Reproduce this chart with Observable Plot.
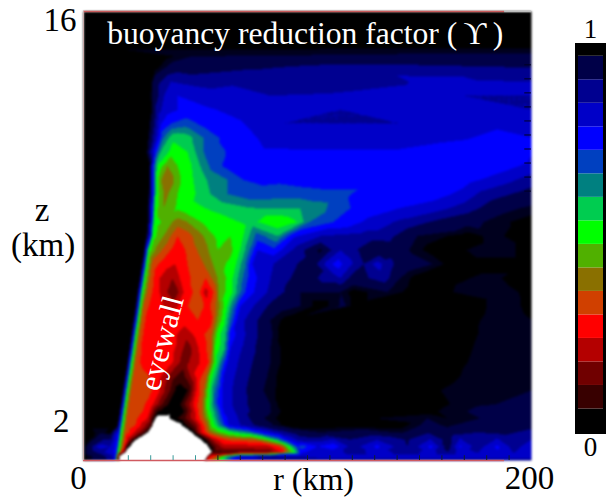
<!DOCTYPE html>
<html>
<head>
<meta charset="utf-8">
<script src="https://cdn.jsdelivr.net/npm/d3@7"></script>
<script src="https://cdn.jsdelivr.net/npm/@observablehq/plot@0.6"></script>
<style>html,body{margin:0;padding:0;background:#fff}#wrap{position:relative;width:609px;height:497px;overflow:hidden}#wrap svg{position:absolute;top:0;background:transparent}</style>
</head>
<body>
<div id="wrap"></div>
<script>
// height of each sampled row, km
const zRows = [16,15,14.8,14.4,14,13.5,13,12.5,12,11.5,11,10.5,10,9.5,9,8.5,8,7.5,7,6.5,6,5.5,5,4.5,4,3.5,3,2.5,2,1.75,1.5,1.25,1,.75,.5,.3,.15,0];
// radii sampled on each row, km
const rRows = [
[0,100,200],[0,100,200],[0,100,200],
[0,36,48,200],
[0,32,36.6,43.3,74.6,119,200],
[0,30,32,39,53.6,68.8,83.5,110,141.5,155,173,200],
[0,29,31,36,42,61,83.5,110,155,162.5,170,200],
[0,30,33,36.6,45.5,54.5,74.5,92.4,114.6,158,168,200],
[0,29,31,34.4,39,46.4,53.6,68.8,83.5,89,141.5,169.6,184.7,200],
[0,28.6,33,35.7,40,46.4,53.6,64.3,77.7,89,141.5,169.6,184.7,200],
[0,28,32,34.4,40,46.4,53.6,65.6,77.7,97,141.5,184.7,191.5,200],
[0,29.5,31,33,37.5,42,46.4,52,58,65.6,97,141.5,186,200],
[0,29.5,31,32.6,35.7,39,42,49,55,64.3,71.4,83.5,97,141.5,171.4,186,200],
[0,29,31,32.6,36.6,42,46.4,53.6,56.7,64.3,74.5,97,114.7,126.8,134,156,168,178.6,200],
[0,28.6,30.8,32,35.7,42,44.6,59.8,74.5,97,105.8,111.6,126.8,141.5,156,171.4,186,200],
[0,28.6,30.4,31.7,37.5,42,46.4,53.6,61,74.5,86.6,95.5,101,111.6,126.8,141.5,156,171.4,186,200],
[0,28,30,31,35.7,42,46.4,51,61,65.6,71.4,77.7,86.6,93.8,105.8,126.8,134,149,171.4,181.7,200],
[0,27,28,29.2,33,42,47.8,53.6,59.8,64.3,68.8,73.2,77.7,84.8,95.5,105.8,114.7,123.7,132.6,140,149,156,186,200],
[0,26,27.2,28.3,31,36,41,46.4,53.6,59.8,67,71.4,75.4,84.8,95.5,102.7,109,113.4,117.9,125,131,135.7,141.5,156,164,200],
[0,25,26.2,27.3,30,34,39.7,44.6,51,54.5,59.8,65.6,70,74.5,83.5,97,111.6,114.7,120.5,134,141.5,149,184.8,190.6,200],
[0,24,25.2,26.3,29,34,40.6,44.6,51,54.5,58,61,65.6,69.2,73.2,82,97,114.7,120.5,135.7,147,183,188.4,200],
[0,23.2,24.3,25.4,27.2,31,40,44.6,50.4,55.4,59.8,63.4,67,70,79,86.6,97,105.8,116,120.5,177,183,190.6,200],
[0,22.2,23.4,24.5,26.2,29,39,44.6,51,56.7,59.8,62.5,65.6,69.2,77.7,83.5,91,172.8,181.7,193,200],
[0,21.3,22.4,23.5,25.3,28,39,45.5,51,56.7,60,63.4,65.6,74.5,83.5,89,172.8,179.5,200],
[0,20.4,21.5,22.6,24.4,27,39,46.4,53,56.7,59,62.5,65.6,73.2,83.5,91,170.5,177,200],
[0,19.5,20.5,21.7,23.4,27,39,44.6,52,55.8,58,60,64.3,71.4,83.5,91,168,175,200],
[0,18.5,19.6,20.7,22.5,26,33,39,44.2,51,54.5,56.7,59.8,62.5,70,82,89,166,170.5,200],
[0,17.5,18.6,19.7,21.5,26,33,37.5,42,46.4,51,53.6,55.8,58,62,68.8,80.4,89,155,164,200],
[0,16.6,17.7,18.8,20.5,25,30,35.3,39,43.3,49,53,55.4,58,61,68.8,77.7,89,159.4,168,200],
[0,16,17.2,18.3,20,24,29,33,34.4,39,44.6,49,53,55.8,59.8,62.5,70,81,91,155,161.6,200],
[0,15.6,16.8,17.9,19.6,24,28.6,31,32.6,37.5,39.3,44.6,50,53.6,56.7,61,64.3,71.4,79,89,114.7,153.6,162.5,177,200],
[0,15,16.2,17.4,19.2,23.2,26.8,30.4,31,43.3,44.6,50,54.5,57.6,61,64.7,73.2,82,91,114.7,126.8,141.5,153.6,162.5,176,186,200],
[0,3,7.6,12,15.8,16.9,18.8,21.9,24.6,27.7,29,47.8,49,52,55.8,59.8,65.6,73.2,79,88,95.5,105.8,126.8,141.5,153.6,162.5,176,186,200],
[0,2.2,9,12,15.3,16.4,18.3,20,22.3,24,51.3,54.5,58,62.5,67,76,80.4,86.6,91,97,105.8,111.6,119,131,144.6,155,162.5,168,176,184.8,192,200],
[0,3,5.4,7.6,12,14.8,16,17.7,19.5,21,55,57.6,62.5,73.2,82,88.8,91.5,95.5,98,104.5,111.6,120.5,131,144.6,155,162.5,168,176,184.8,192,200],
[0,3,7.6,14.4,15.6,17,18.2,19,56.7,57.6,70,83.5,89.3,93.8,97,101,111.6,120.5,131,144.6,155,162.5,168,176,184.8,192,200],
[0,7.6,12,14.3,16,55,55.8,58,63.4,70,83.5,97,114.7,132.6,155,168,200],
[0,13.4,14.7,16,54,55.8,61,68,97,200]
];
// colour-bar level read at each sample: 0 black ... 16 top of bar, -1 white
const levelRows = [
[16,16,16],[16,16,16],[16,16,16],
[16,16,15.5,15.3],
[16,16,15.5,15,14.6,14.2,14.5],
[16,16,15,13.5,14,13.7,14,14,13.7,13,13.4,13.5],
[16,16,15.5,13.5,12.5,13,13.5,13.4,12.8,13,13.5,13.5],
[16,16,14,13,12.2,12.4,12.8,13.4,13.5,13,13.4,13.5],
[16,16,15,12.6,11.5,11,11.8,12.4,12.9,13.5,13.5,13.3,12.7,12.7],
[16,16,13,10.5,8.7,9,10.5,12,12.5,13.4,13.3,12.6,12.2,12.5],
[16,16,12,9.5,8,8.5,10.5,11.7,12.2,12.3,12.3,11.8,11.5,12.4],
[16,16,12,8.5,6.5,7.5,8,9.5,11,12,12,12,12,12.8],
[16,16,12,8,6,6,7.3,8.5,9.5,10.5,11.5,11.7,12,12,12.2,13,14],
[16,16,12,8,6.2,7.5,8,9,9.5,10.5,11.2,11,11.3,11.8,12,12,12.7,13.8,15],
[16,16,12,8,6.5,7.7,8,8.8,9.5,9.6,10,11,12,12.5,13,14,15.3,15.6],
[16,16,12,8,7,6,6.5,7.7,8,8.8,7.7,8.5,10.5,11.5,12.7,13.7,14.6,15.3,15.7,16],
[16,16,12,8,6.5,4.5,5,6,8,7.5,8.5,11,9.5,12.3,13.5,14,14,15.5,16,15.7,16],
[16,16,12,8,6,3.7,5,6,7.5,7,8,10,12.5,11.8,14,15.7,13.5,14.7,15.5,15.2,15.7,16,15.6,16],
[16,16,12,8,5,4,3.5,4.5,5.5,7,8,10,12.5,13.5,14.5,15,13,12,13,14.5,13,14,15,15.5,16,16],
[16,16,12,8,5,3.5,2.5,4,5,4.5,6.5,8,10,12,13.5,15,14,13.5,15,14,15.5,16,15.7,16,16],
[16,16,12,8,5,3.5,1.5,3.5,5,3,4.5,7,8,10,12,13.5,15.5,15.5,16,15.5,16,15.6,15.6,16],
[16,16,12,8,5,4,3,4,5.5,4,6,8,10.5,12.5,14,15.2,15.5,16,15.4,16,16,15.6,15.6,16],
[16,16,12,8,5,4,4,4,4.5,4,6.5,8,10.5,13,14.5,15.5,16,16,15.6,15.6,15.8],
[16,16,12,8,5,4,4,2.8,4,5,8,9.5,12,14,15.4,16,16,15.6,15.6],
[16,16,12,8,5,4,4,2,4,5,8,9,12.5,14,15.5,16,16,15.6,15.6],
[16,16,12,8,5,4,3.8,2,3.5,4.5,7,9,12.5,14,15.5,16,16,15.6,15.6],
[16,16,12,8,5,5,4,2,1,4,5,8,10,12.5,14,15.5,16,16,15.6,15.6],
[16,16,12,8,5,5.5,4,2,0,.5,4,5.5,8,10,12.5,14,15.5,16,16,15.6,15.5],
[16,16,12,8,5,5,4,1.5,0,.5,3.5,5.5,8,10,12.3,14,15,16,16,15.6,15.4],
[16,16,12,8,5,5,4,.5,.3,0,.3,3,5.5,8,10.5,12.5,14,15.3,16,16,15.6,15.2],
[16,16,12,8,5,4.5,3.5,1,-1,-1,0,1,3.5,5.5,8,11,12.5,14,15.4,16,16,15.5,15.8,15.5,15.2],
[16,16,12,8,5,4.5,3,1,-1,-1,0,2,5,8,10,12.5,14,15.3,16,16,16,16,15.3,15.6,15,15.3,14.8],
[16,16,15.6,16,12,8,5,4,2.5,1,-1,-1,0,3,5.5,7,8.5,10,12,14,15,15.5,15.2,15.6,14.6,15.2,14.5,14.8,14.2],
[16,16,14.5,14.5,12,8,5,3,1,-1,-1,.5,3,4.5,5,5.5,7,10,12.5,14,14,13.4,14.5,13.6,14.6,13.4,15,13.4,14,13.4,14,13.5],
[16,15,13.5,13,13.5,12,8,5,1,-1,-1,1,3,3,3,5,8,11.5,11,12.5,11.8,14,12.2,14.5,12.2,15,12.3,14,12.3,14,12.8],
[16,15,14,12,8,4,2,-1,-1,1,1.5,2,4,8,12,12.8,13,14,13,14,13,14.5,13,13.6,12.6,13.6,12.6],
[16,15,14,12,-1,-1,3,4,9,12.5,14,13.5,13,13,13,13,13],
[16,14,8,-1,-1,5,8,13,14,14]
];
// bottom and upper-right tick marks, km
const whiteTicks = [20,30,40,50];
const darkTicks = [60,70,80,90,100,110,120,130,140,150,160,170,180,190];
const rightTicks = [14.1,13.6,13.1,12.6,12.1,11.6,11.1,10.6,10.1,9.6];
// colour-bar bands, bottom to top
const barLevels = [0,1,2,3,4,5,6,7,8,9,10,11,12,13,14,15,16];
const barColors = ["#000000","#380000","#700000","#b40000","#ff0000","#d04000","#8a7000","#50b000","#00ff00","#00cc50","#008080","#0040c0","#0000ff","#0000c8","#000090","#000048","#000000"];
const thresholds = [-0.5,0.5,1.5,2.5,3.5,4.5,5.5,6.5,7.5,8.5,9.5,10.5,11.5,12.5,13.5,14.5,15.5,15.8];
const titleText = "buoyancy reduction factor (\u2009\u03D2\u2009)";

const serif = "'Liberation Serif','Times New Roman',serif";
const colorScale = {type:"threshold", domain:thresholds, range:["#ffffff",...barColors.slice(0,16),"#00001e","#000000"]};
const samples = zRows.flatMap((z,i)=>rRows[i].map((r,j)=>({r,z,g:levelRows[i][j]})));

// Raster interpolator handed to Plot: stitches each pair of neighbouring sample rows into
// triangles, pairing samples of like value, and shades linearly inside each triangle.
function stitched(index, w, h, X, Y, V) {
  const W = new Float64Array(w * h).fill(16);
  const rows = d3.groups(Array.from(index), i => Y[i]).sort((a, b) => a[0] - b[0]).map(d => d[1].sort((p, q) => X[p] - X[q]));
  const fill = (a, b, c) => {
    const ax = X[a], ay = Y[a], bx = X[b], by = Y[b], cx = X[c], cy = Y[c];
    const d = (by - cy) * (ax - cx) + (cx - bx) * (ay - cy);
    if (!d) return;
    const x0 = Math.max(0, Math.floor(Math.min(ax, bx, cx))), x1 = Math.min(w - 1, Math.ceil(Math.max(ax, bx, cx)));
    const y0 = Math.max(0, Math.floor(Math.min(ay, by, cy))), y1 = Math.min(h - 1, Math.ceil(Math.max(ay, by, cy)));
    for (let y = y0; y <= y1; ++y) for (let x = x0; x <= x1; ++x) {
      const px = x + 0.5, py = y + 0.5;
      const l1 = ((by - cy) * (px - cx) + (cx - bx) * (py - cy)) / d;
      const l2 = ((cy - ay) * (px - cx) + (ax - cx) * (py - cy)) / d;
      const l3 = 1 - l1 - l2;
      if (l1 < -1e-9 || l2 < -1e-9 || l3 < -1e-9) continue;
      W[x + w * y] = l1 * V[a] + l2 * V[b] + l3 * V[c];
    }
  };
  const cost = (p, q) => Math.abs(X[p] - X[q]) + 4 * Math.abs(V[p] - V[q]);
  for (let k = 0; k + 1 < rows.length; ++k) {
    const A = rows[k], B = rows[k + 1];
    let i = 0, j = 0;
    while (i < A.length - 1 || j < B.length - 1) {
      const up = i < A.length - 1 ? cost(A[i + 1], B[j]) : Infinity;
      const dn = j < B.length - 1 ? cost(A[i], B[j + 1]) : Infinity;
      if (up <= dn) { fill(A[i], A[i + 1], B[j]); ++i; }
      else { fill(A[i], B[j], B[j + 1]); ++j; }
    }
  }
  return W;
}

const main = Plot.plot({
  width:609,height:497,marginLeft:83,marginRight:78,marginTop:11,marginBottom:37,
  style:{background:"transparent",overflow:"visible"},
  x:{domain:[0,200]},y:{domain:[0,16]},color:colorScale,
  marks:[
    Plot.raster(samples,{x:"r",y:"z",fill:"g",interpolate:stitched,pixelSize:1}),
    Plot.ruleY([0],{x1:0,x2:188,stroke:"#d05a60",strokeWidth:1.5}),
    Plot.ruleY([16],{x1:0,x2:188,stroke:"#c85a5a",strokeWidth:1.5}),
    Plot.ruleY([16],{x1:188,x2:200,stroke:"#bbbbbb",strokeWidth:1.5}),
    Plot.ruleX([0],{stroke:"#c8a8a8",strokeWidth:1}),
    Plot.ruleX(whiteTicks,{y1:0,y2:0.17,stroke:"#3a9a9a",strokeWidth:1}),
    Plot.ruleX(darkTicks,{y1:0,y2:0.17,stroke:"#102028",strokeWidth:1}),
    Plot.ruleY(rightTicks,{x1:197,x2:200,stroke:"#000020",strokeWidth:1}),
    Plot.axisX({ticks:[0],tickSize:0,tickPadding:5,fontSize:33,fontFamily:serif,label:null,dx:-5,tickFormat:d=>String(d),fill:"#000"}),
    Plot.axisX({ticks:[200],tickSize:0,tickPadding:5,fontSize:33,fontFamily:serif,label:null,dx:-2,tickFormat:d=>String(d),fill:"#000"}),
    Plot.axisY({ticks:[16],tickSize:0,tickPadding:7,fontSize:33,fontFamily:serif,label:null,dy:9,fill:"#000"}),
    Plot.axisY({ticks:[2],tickSize:0,tickPadding:14,fontSize:33,fontFamily:serif,label:null,dy:17,fill:"#000"}),
    Plot.text([titleText],{x:99,y:15.2,fontSize:31.6,fontFamily:serif,fill:"#fff"}),
    Plot.text(["eyewall"],{x:35,y:4.18,rotate:-75,fontSize:31,fontFamily:serif,fill:"#fff"}),
    Plot.text(["z"],{x:-18.5,y:8.9,fontSize:33,fontFamily:serif,fill:"#000"}),
    Plot.text(["(km)"],{x:-18,y:7.65,fontSize:33,fontFamily:serif,fill:"#000"}),
    Plot.text(["r (km)"],{x:102.7,y:-0.68,fontSize:32,fontFamily:serif,fill:"#000"})
  ]
});

const bar = Plot.plot({
  width:53,height:497,marginLeft:20,marginRight:5,marginTop:44,marginBottom:65,
  style:{background:"transparent",overflow:"visible"},
  x:{domain:[0,1],axis:null},y:{domain:[-0.5,16.0],axis:null},color:colorScale,
  marks:[
    Plot.rect(barLevels,{x1:0,x2:1,y1:d=>d-0.5,y2:d=>d+0.5,fill:d=>d,clip:true}),
    Plot.frame({stroke:"#000",strokeWidth:3}),
    Plot.text(["1"],{x:0.5,y:16.0,dy:-15,fontSize:27,fontFamily:serif,fill:"#000"}),
    Plot.text(["0"],{x:0.5,y:-0.5,dy:15,fontSize:27,fontFamily:serif,fill:"#000"})
  ]
});
bar.style.left = "556px";
const wrap = document.getElementById("wrap");
wrap.append(main, bar);
const img = main.querySelector("image");
if (img) img.style.filter = "blur(0.8px)";
</script>
</body>
</html>
